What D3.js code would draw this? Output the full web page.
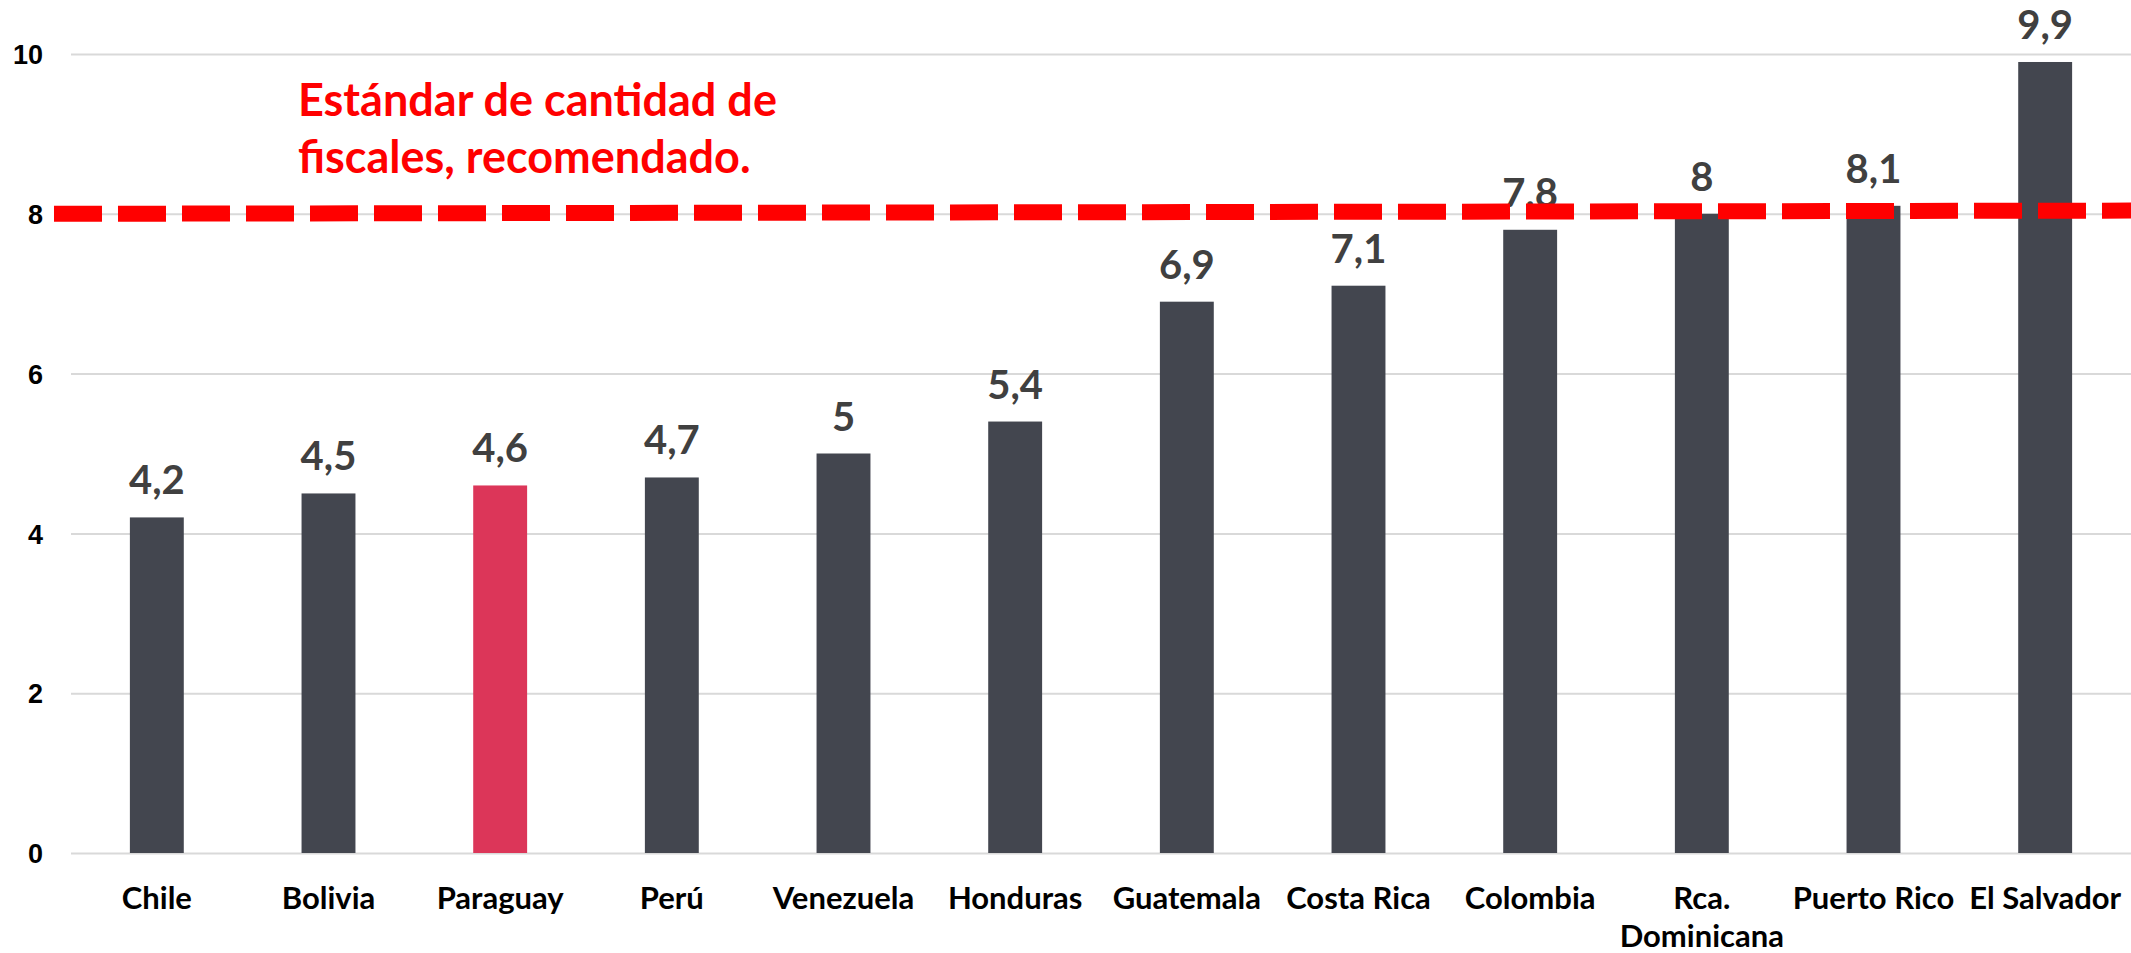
<!DOCTYPE html>
<html>
<head>
<meta charset="utf-8">
<script src="https://cdn.jsdelivr.net/npm/d3@7"></script>
<style>
  body { margin: 0; background: #fff; }
  svg { display: block; font-family: Lato, "Open Sans", sans-serif; }
</style>
</head>
<body>
<div class="canvas"></div>
<script>
const countries = [
  "Chile", "Bolivia", "Paraguay", "Perú", "Venezuela", "Honduras",
  "Guatemala", "Costa Rica", "Colombia", "Rca. Dominicana", "Puerto Rico", "El Salvador",
];
const values = [4.2, 4.5, 4.6, 4.7, 5, 5.4, 6.9, 7.1, 7.8, 8, 8.1, 9.9];
const highlight = ["Paraguay"];
const yTicks = [0, 2, 4, 6, 8, 10];
const standard = [8, 8.04];
const noteLines = ["Estándar de cantidad de", "fiscales, recomendado."];

const width = 2131;
const height = 953;
const margin = { top: 54, right: 0, bottom: 100, left: 71 };

const x = d3
  .scaleBand()
  .domain(countries)
  .range([margin.left, width - margin.right])
  .paddingInner(0.686)
  .paddingOuter(0.343);

const y = d3
  .scaleLinear()
  .domain([0, 10])
  .range([height - margin.bottom, margin.top]);

const svg = d3
  .select(".canvas")
  .append("svg")
  .attr("width", width)
  .attr("height", height);

// grid lines + tick labels
const yAxis = d3
  .axisLeft(y)
  .tickValues(yTicks)
  .tickSize(-(width - margin.left))
  .tickPadding(28)
  .tickFormat(d3.format("d"));

const gy = svg
  .append("g")
  .attr("transform", `translate(${margin.left},0)`)
  .call(yAxis);
gy.select(".domain").remove();
gy.selectAll(".tick line").attr("stroke", "#d9d9d9").attr("stroke-width", 2);
gy.selectAll(".tick text")
  .attr("fill", "#000")
  .attr("font-size", 27)
  .attr("font-weight", 900)
  .attr("dy", "0.36em");

// bars
svg
  .append("g")
  .selectAll("rect")
  .data(countries)
  .join("rect")
  .attr("x", (d) => x(d))
  .attr("y", (d, i) => y(values[i]))
  .attr("width", x.bandwidth())
  .attr("height", (d, i) => y(0) - y(values[i]))
  .attr("fill", (d) => (highlight.includes(d) ? "#dc3659" : "#43464f"));

// value labels
svg
  .append("g")
  .selectAll("text")
  .data(countries)
  .join("text")
  .attr("x", (d) => x(d) + x.bandwidth() / 2)
  .attr("y", (d, i) => y(values[i]) - 23)
  .attr("text-anchor", "middle")
  .attr("font-size", 40)
  .attr("font-weight", 700)
  .attr("fill", "#404040")
  .text((d, i) => String(values[i]).replace(".", ","));

// category labels (wrap after "Rca.")
const cat = svg
  .append("g")
  .selectAll("text")
  .data(countries)
  .join("text")
  .attr("x", (d) => x(d) + x.bandwidth() / 2)
  .attr("y", y(0) + 56)
  .attr("text-anchor", "middle")
  .attr("font-size", 31)
  .attr("font-weight", 700)
  .attr("fill", "#000");

cat.each(function (d) {
  const parts = d.includes(". ") ? d.split(". ").map((p, i, a) => (i < a.length - 1 ? p + "." : p)) : [d];
  d3.select(this)
    .selectAll("tspan")
    .data(parts)
    .join("tspan")
    .attr("x", x(d) + x.bandwidth() / 2)
    .attr("dy", (p, i) => (i === 0 ? 0 : 38))
    .text((p) => p);
});

// note
svg
  .append("text")
  .attr("x", 298)
  .attr("y", 116)
  .attr("font-size", 45)
  .attr("font-weight", 700)
  .attr("fill", "#ff0000")
  .selectAll("tspan")
  .data(noteLines)
  .join("tspan")
  .attr("x", 298)
  .attr("dy", (d, i) => (i === 0 ? 0 : 57))
  .text((d) => d);

// recommended standard line
svg
  .append("line")
  .attr("x1", 54)
  .attr("x2", width)
  .attr("y1", y(standard[0]))
  .attr("y2", y(standard[1]))
  .attr("stroke", "#ff0000")
  .attr("stroke-width", 16)
  .attr("stroke-dasharray", "48 16");
</script>
</body>
</html>
